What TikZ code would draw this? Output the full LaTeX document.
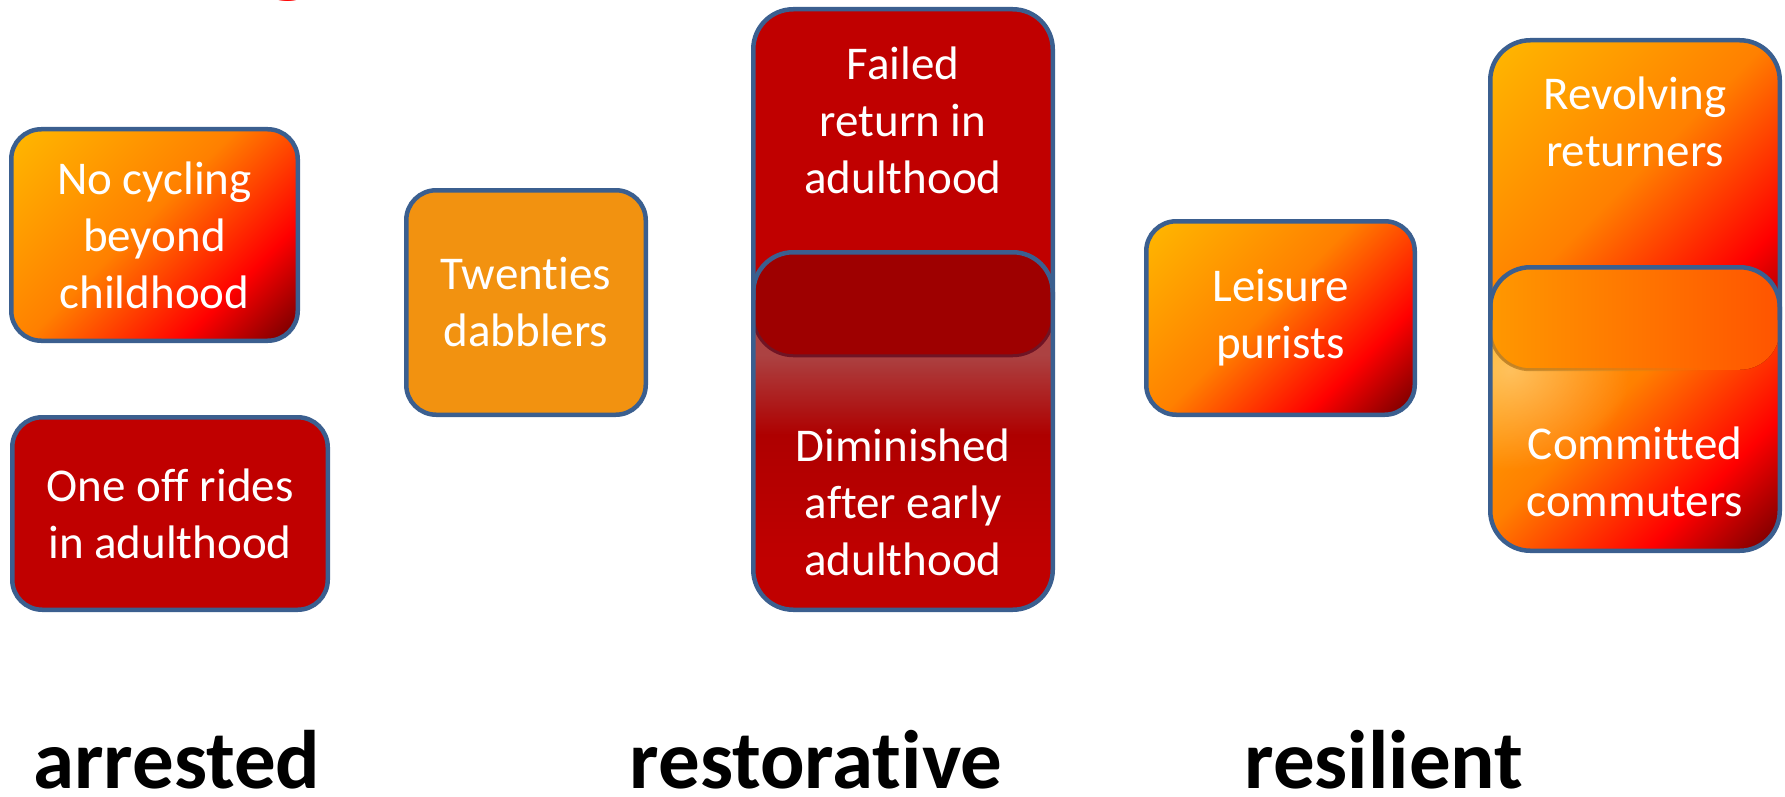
\documentclass[tikz,border=0pt]{standalone}
\usepackage{fontspec}
\setmainfont{Carlito}[Ligatures={NoCommon}]
\usetikzlibrary{fadings}
\definecolor{bord}{RGB}{59,95,143}
\definecolor{dred}{RGB}{192,0,0}
\definecolor{pillred}{RGB}{158,0,0}
\definecolor{rpink}{RGB}{172,66,66}
\definecolor{rmid}{RGB}{174,0,0}
\definecolor{shadowc}{RGB}{112,20,36}
\definecolor{dabbler}{RGB}{242,146,16}
\definecolor{fgold}{RGB}{255,184,0}
\definecolor{forange}{RGB}{255,128,0}
\definecolor{fred}{RGB}{255,0,0}
\definecolor{fdark}{RGB}{107,0,0}
\definecolor{pillL}{RGB}{255,152,0}
\definecolor{pillR}{RGB}{255,84,0}
\definecolor{ochre}{RGB}{190,130,40}
\definecolor{tred}{RGB}{255,0,0}
\pgfdeclarehorizontalshading{fire}{100bp}{color(0bp)=(fgold); color(14.6bp)=(fgold); color(46.5bp)=(forange); color(69bp)=(fred); color(85.4bp)=(fdark); color(100bp)=(fdark)}
\tikzfading[name=fadeR, left color=transparent!0, right color=transparent!100]
\tikzfading[name=tintfade, inner color=transparent!10, outer color=transparent!100]
\newcommand{\bxfont}{\fontsize{47}{57}\selectfont}
\newcommand{\lblfont}{\fontsize{83}{90}\selectfont\bfseries}
\newcommand{\ttlfont}{\fontsize{112}{124}\selectfont\bfseries}
\tikzset{
  box/.style={draw=bord, line width=4.5pt, rounded corners=30pt, inner sep=0pt, align=center, text=white, font=\bxfont},
  firefill/.style={shading=fire, shading angle=-45},
  btxt/.style={align=center, text=white, font=\bxfont, inner sep=0pt},
  lbl/.style={anchor=base, font=\lblfont, text=black, inner sep=0pt},
  bline/.style={draw=bord, line width=4.5pt, rounded corners=40pt},
}
\begin{document}
\begin{tikzpicture}[x=1pt,y=-1pt]
\useasboundingbox (0,0) rectangle (1785,797);
\begin{scope}
\clip (0,0) rectangle (1785,797);
\node[anchor=base west, text=tred, font=\ttlfont, inner sep=0pt] (title) at (-51,-17) {Typology};
\end{scope}

% arrested
\node[box, firefill, minimum width=286.5pt, minimum height=211.5pt] (nc) at (154.5,235) {No cycling\\beyond\\childhood};
\node[box, fill=dred, minimum width=315.5pt, minimum height=192.5pt] (oo) at (170,513.5) {One off rides\\in adulthood};
% twenties
\node[box, fill=dabbler, minimum width=239.5pt, minimum height=224.5pt] (tw) at (526,302.5) {Twenties\\dabblers};

% restorative composite
\fill[dred, rounded corners=40pt] (753.25,9.25) rectangle (1052.75,609.75);
\begin{scope}
\clip[rounded corners=40pt] (753.25,9.25) rectangle (1052.75,609.75);
\fill[rpink] (740,300) rectangle (1070,356);
\shade[top color=rpink, bottom color=rmid] (740,355) rectangle (1070,435);
\shade[top color=rmid, bottom color=dred] (740,434) rectangle (1070,560);
\end{scope}
\fill[pillred, rounded corners=40pt] (753.25,252.25) rectangle (1052.75,355.75);
\draw[shadowc, line width=3pt, rounded corners=40pt] (753.25,300) -- (753.25,355.75) -- (1052.75,355.75) -- (1052.75,300);
\draw[bline] (753.25,300) -- (753.25,252.25) -- (1052.75,252.25) -- (1052.75,300);
\draw[bline] (753.25,9.25) rectangle (1052.75,609.75);
\node[btxt] (fr) at (903,120) {Failed\\return in\\adulthood};
\node[btxt] (dm) at (903,502) {Diminished\\after early\\adulthood};

% leisure
\node[box, firefill, minimum width=268.5pt, minimum height=193.5pt] (lp) at (1280.5,318) {Leisure\\purists};

% resilient composite
\shade[firefill, rounded corners=40pt] (1490.25,267.25) rectangle (1779.75,550.75);
\begin{scope}
\clip[rounded corners=40pt] (1490.25,267.25) rectangle (1779.75,550.75);
\fill[white, opacity=0.4, path fading=tintfade] (1390,270) rectangle (1630,470);
\end{scope}
\shade[firefill, rounded corners=40pt] (1490.25,40.25) rectangle (1779.75,369.75);
\shade[left color=pillL, right color=pillR, rounded corners=40pt] (1490.25,267.25) rectangle (1779.75,369.75);
\draw[ochre, line width=3pt, rounded corners=40pt, path fading=fadeR] (1490.25,320) -- (1490.25,369.75) -- (1700,369.75);
\draw[bline] (1490.25,320) -- (1490.25,267.25) -- (1779.75,267.25) -- (1779.75,320);
\draw[bline] (1490.25,40.25) rectangle (1779.75,550.75);
\node[btxt] (rr) at (1635,122) {Revolving\\returners};
\node[btxt] (cc) at (1635,472) {Committed\\commuters};

% labels
\node[lbl] (la) at (177,788) {arrested};
\node[lbl] (lr) at (816,788) {restorative};
\node[lbl] (ls) at (1384,788) {resilient};
\end{tikzpicture}
\end{document}
